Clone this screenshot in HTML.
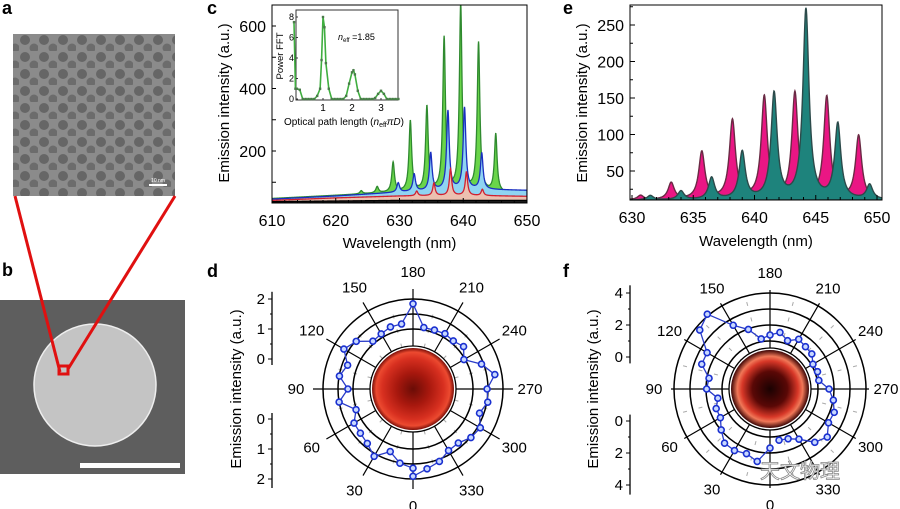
<!DOCTYPE html>
<html><head><meta charset="utf-8">
<style>
html,body{margin:0;padding:0;background:#fff;}
svg{display:block;font-family:"Liberation Sans",Arial,sans-serif;}
</style></head>
<body>
<svg id="fig" width="900" height="509" viewBox="0 0 900 509" xmlns="http://www.w3.org/2000/svg">
<defs>
  <radialGradient id="polD" cx="50%" cy="50%" r="50%">
    <stop offset="0" stop-color="#6a0c06"/><stop offset="0.4" stop-color="#a8180e"/>
    <stop offset="0.75" stop-color="#d83020"/><stop offset="0.9" stop-color="#ec4a30"/><stop offset="1" stop-color="#7a0e08"/>
  </radialGradient>
  <radialGradient id="polF" cx="50%" cy="50%" r="50%">
    <stop offset="0" stop-color="#1a0202"/><stop offset="0.45" stop-color="#5a0806"/>
    <stop offset="0.72" stop-color="#d83828"/><stop offset="0.84" stop-color="#f07858"/><stop offset="1" stop-color="#3a0404"/>
  </radialGradient>
  <pattern id="tem" width="19" height="17" patternUnits="userSpaceOnUse">
    <rect width="19" height="17" fill="#8b8b8b"/>
    <circle cx="6" cy="6" r="5" fill="#666"/>
    <circle cx="15" cy="14" r="4.5" fill="#6c6c6c"/>
  </pattern>
</defs>

<text x="2" y="14" font-size="18" font-weight="bold">a</text>
<rect x="13" y="34" width="162" height="162" fill="url(#tem)"/>
<rect x="149" y="184" width="18" height="2" fill="#fff"/>
<text x="158" y="182" font-size="5" fill="#fff" text-anchor="middle">10 nm</text>
<text x="2" y="276" font-size="18" font-weight="bold">b</text>
<rect x="0" y="300" width="185" height="174" fill="#5e5e5e"/>
<circle cx="95" cy="385" r="61" fill="#c4c4c4" stroke="#eee" stroke-width="1.5"/>
<rect x="80" y="463" width="100" height="5" fill="#fff"/>
<g stroke="#e01010" stroke-width="3" fill="none">
  <line x1="15" y1="196" x2="60" y2="372"/><line x1="175" y1="196" x2="68" y2="369"/>
  <rect x="59" y="366" width="9" height="8"/>
</g>

<text x="207" y="14" font-size="18" font-weight="bold">c</text>
<g id="cPlot"></g>
<text x="563" y="14" font-size="18" font-weight="bold">e</text>
<g id="ePlot"></g>
<text x="207" y="277" font-size="18" font-weight="bold">d</text>
<g id="dPlot"></g>
<text x="563" y="277" font-size="18" font-weight="bold">f</text>
<g id="fPlot"></g>

<text x="800" y="478" font-size="20" fill="#fff" stroke="#888" stroke-width="0.8" text-anchor="middle" font-family="'Liberation Sans','Noto Sans CJK SC',sans-serif">天文物理</text>
</svg>
<script>
const cGreenPeaks = [624.0, 626.5, 629.0, 631.7, 634.3, 637.0, 639.6, 642.4, 645.1];
const cGreenHeights = [10, 20, 95, 225, 270, 490, 595, 475, 185];
const cBluePeaks = [629.8, 632.3, 634.9, 637.6, 640.2, 642.9];
const cBlueHeights = [30, 55, 120, 252, 260, 115];
const cRedPeaks = [632.7, 635.4, 638.0, 640.5, 643.0];
const cRedHeights = [15, 40, 85, 75, 20];
const cBaseWl = [610, 620, 630, 640, 650];
const cGreenBase = [48, 58, 68, 70, 62];
const cBlueBase = [46, 56, 68, 78, 74];
const cRedBase = [42, 50, 56, 58, 55];
const cBlackBase = [38, 40, 42, 42, 42];
const cXTicks = [610, 620, 630, 640, 650];
const cYTicks = [200, 400, 600];
const fftX = [0,0.05,0.1,0.2,0.3,0.4,0.5,0.6,0.7,0.8,0.9,0.95,1.0,1.05,1.1,1.2,1.3,1.4,1.5,1.6,1.7,1.8,1.9,2.0,2.05,2.1,2.2,2.3,2.4,2.5,2.6,2.7,2.8,2.9,3.0,3.1,3.2,3.3,3.4,3.5,3.6];
const fftY = [7.5,1,1,0.9,0,0,0,0,0,0.3,1,3.8,8,7,3.5,1,0,0,0,0,0,0.3,1.5,2.6,2.8,2.4,0.8,0,0,0,0,0,0.1,0.5,0.8,0.5,0,0,0,0,0];
const fftYTicks = [0,2,4,6,8];
const fftXTicks = [1,2,3];
const ePinkPeaks = [630.7, 633.2, 635.7, 638.2, 640.8, 643.3, 645.9, 648.5];
const ePinkHeights = [6, 23, 65, 108, 140, 145, 140, 87];
const eTealPeaks = [631.5, 634.0, 636.5, 639.0, 641.6, 644.2, 646.8, 649.4];
const eTealHeights = [6, 12, 30, 65, 145, 260, 103, 20];
const eBase = 10;
const eXTicks = [630, 635, 640, 645, 650];
const eYTicks = [50, 100, 150, 200, 250];
const dAngles = [0,10,20,30,40,50,60,70,80,90,100,110,120,130,140,150,160,170,180,190,200,210,220,230,240,250,260,270,280,290,300,310,320,330,340,350,360];
const dValues = [1.64,1.51,1.22,1.59,1.37,1.29,1.27,1.02,1.5,1.17,1.49,1.32,1.66,1.47,1.08,1.12,1.2,1.2,1.84,1.08,1.09,1.13,1.09,1.2,0.96,1.43,1.77,1.47,1.53,1.36,1.59,1.52,1.35,1.37,1.57,1.7,1.91];
const dAxisTicks = [0,1,2];
const fAngles = [0,10,20,30,40,50,60,70,80,90,100,110,120,130,140,150,160,170,180,190,200,210,220,230,240,250,260,270,280,290,300,310,320,330,340,350];
const fValues = [1.69,2.6,2.3,2.44,2.42,1.98,1.58,1.58,1.31,1.96,1.87,2.54,2.54,3.73,4.1,2.6,1.96,1.18,1.375,1.59,1.21,1.59,1.45,1.41,1.1,1.16,1.1,1.69,2.02,2.27,2.22,2.67,2.35,1.62,1.31,1.25];
const fAxisTicks = [0,2,4];
const polarLabels = [0,30,60,90,120,150,180,210,240,270,300,330];

const NS = "http://www.w3.org/2000/svg";
function mk(parent, tag, attrs, text){
  const e = document.createElementNS(NS, tag);
  for (const k in attrs) e.setAttribute(k, attrs[k]);
  if (text !== undefined) e.textContent = text;
  parent.appendChild(e);
  return e;
}
function interp(xs, ys, x){
  if (x <= xs[0]) return ys[0];
  for (let i=1;i<xs.length;i++) if (x <= xs[i]) return ys[i-1] + (ys[i]-ys[i-1])*(x-xs[i-1])/(xs[i]-xs[i-1]);
  return ys[ys.length-1];
}
function spec(x, peaks, heights, w){
  let s = 0;
  for (let i=0;i<peaks.length;i++){ const d=(x-peaks[i])/w; s += heights[i]/(1+d*d); }
  return s;
}

(function(){
  const g = document.getElementById('cPlot');
  const L=272,R=527,T=5,B=203;
  const xS = v => L + (v-610)*(R-L)/40;
  const yS = v => 151 - (v-200)*0.3125;
  const clip = mk(g,'clipPath',{id:'cClip'}); mk(clip,'rect',{x:L,y:T,width:R-L,height:B-T});
  const area = mk(g,'g',{'clip-path':'url(#cClip)'});
  function drawSeries(base, peaks, heights, fill, stroke, name, w){
    let pts = [];
    for (let x=610; x<=650.001; x+=0.04){
      const v = interp(cBaseWl, base, x) + spec(x, peaks, heights, w);
      pts.push(xS(x).toFixed(2)+','+yS(v).toFixed(2));
    }
    const p = mk(area,'polygon',{points: xS(610)+','+B+' '+pts.join(' ')+' '+xS(650)+','+B, fill: fill, stroke: stroke, 'stroke-width':1.3});
    
    
  }
  drawSeries(cGreenBase, cGreenPeaks, cGreenHeights, '#6ad54a', '#2f8a2f', 'green-spectrum', 0.25);
  drawSeries(cBlueBase, cBluePeaks, cBlueHeights, '#8fd4f2', '#1a2fc0', 'blue-spectrum', 0.25);
  drawSeries(cRedBase, cRedPeaks, cRedHeights, '#ecc0b0', '#d02030', 'red-spectrum', 0.22);
  drawSeries(cBlackBase, [], [], '#1a1a1a', '#000', 'black-spectrum', 0.2);
  const frame = mk(g,'rect',{x:L,y:T,width:R-L,height:B-T,fill:'none',stroke:'#000','stroke-width':1});
  
  
  for (let v=610; v<=650; v+=2){ const major = v%10===0; mk(g,'line',{x1:xS(v),x2:xS(v),y1:B,y2:B-(major?5:3),stroke:'#000'}); }
  for (let v=100; v<=600; v+=100) mk(g,'line',{x1:L,x2:L+4,y1:yS(v),y2:yS(v),stroke:'#000'});
  cXTicks.forEach(v=>{ const t=mk(g,'text',{x:xS(v),y:226,'font-size':16,'text-anchor':'middle'},String(v));
      });
  cYTicks.forEach(v=>{ const t=mk(g,'text',{x:L-6,y:yS(v)+6,'font-size':16,'text-anchor':'end'},String(v));
      });
  const xt = mk(g,'text',{x:(L+R)/2,y:248,'font-size':15,'text-anchor':'middle'},'Wavelength (nm)');
   
  const yt = mk(g,'text',{x:0,y:0,'font-size':15,'text-anchor':'middle',transform:'translate(229,103) rotate(-90)'},'Emission intensity (a.u.)');
   
  const iL=296,iR=398,iT=10,iB=100;
  const fx = v => 294 + v*29;
  const fy = v => 99 - v*10.25;
  const ib = mk(g,'rect',{x:iL,y:iT,width:iR-iL,height:iB-iT,fill:'#fff',stroke:'#333','stroke-width':1});
   
  const line = mk(g,'polyline',{points: fftX.map((x,i)=>fx(x)+','+fy(fftY[i])).join(' '), fill:'none', stroke:'#3fae3f','stroke-width':1.6});
   
  fftX.forEach((x,i)=>{ const m=mk(g,'rect',{x:fx(x)-1.2,y:fy(fftY[i])-1.2,width:2.4,height:2.4,fill:'#4a7a4a'});
      });
  fftYTicks.forEach(v=>{ mk(g,'line',{x1:iL,x2:iL+2,y1:fy(v),y2:fy(v),stroke:'#333'});
    const t=mk(g,'text',{x:iL-2,y:fy(v)+3,'font-size':9,'text-anchor':'end'},String(v));
      });
  fftXTicks.forEach(v=>{ mk(g,'line',{x1:fx(v),x2:fx(v),y1:iB,y2:iB-2,stroke:'#333'});
    const t=mk(g,'text',{x:fx(v),y:iB+11,'font-size':10,'text-anchor':'middle'},String(v));
      });
  const pf = mk(g,'text',{x:0,y:0,'font-size':9.5,'text-anchor':'middle',transform:'translate(283,56) rotate(-90)'},'Power FFT');
   
  const ox = mk(g,'text',{x:344,y:125,'font-size':10,'text-anchor':'middle'});
   
  ox.innerHTML = 'Optical path length (<tspan font-style="italic">n</tspan><tspan font-size="7" dy="2">eff</tspan><tspan dy="-2" font-style="italic">πD</tspan>)';
  const ne = mk(g,'text',{x:338,y:40,'font-size':9});
   
  ne.innerHTML = '<tspan font-style="italic">n</tspan><tspan font-size="6" dy="2">eff</tspan><tspan dy="-2"> =1.85</tspan>';
})();

(function(){
  const g = document.getElementById('ePlot');
  const L=630,R=882,T=5,B=200;
  const xS = v => 632 + (v-630)*12.25;
  const yS = v => 25 + (250-v)*0.73;
  const clip = mk(g,'clipPath',{id:'eClip'}); mk(clip,'rect',{x:L,y:T,width:R-L,height:B-T});
  const area = mk(g,'g',{'clip-path':'url(#eClip)'});
  function drawSeries(peaks, heights, fill, stroke, name){
    let pts=[];
    for (let x=629.8; x<=650.6; x+=0.03){
      const v = eBase + spec(x, peaks, heights, 0.3);
      pts.push(xS(x).toFixed(2)+','+yS(v).toFixed(2));
    }
    const p = mk(area,'polygon',{points: xS(629.8)+','+B+' '+pts.join(' ')+' '+xS(650.6)+','+B, fill:fill, stroke:stroke,'stroke-width':1.4});
    
    
  }
  drawSeries(ePinkPeaks, ePinkHeights, '#ea1684', '#6a2a44', 'pink-spectrum');
  drawSeries(eTealPeaks, eTealHeights, '#1e837c', '#2c4a4a', 'teal-spectrum');
  const frame = mk(g,'rect',{x:L,y:T,width:R-L,height:B-T,fill:'none',stroke:'#000','stroke-width':1});
   
  for (let v=630; v<=650; v+=1){ const major=v%5===0; mk(g,'line',{x1:xS(v),x2:xS(v),y1:B,y2:B-(major?5:3),stroke:'#000'}); }
  for (let v=25; v<=275; v+=25){ const major=v%50===0; mk(g,'line',{x1:L,x2:L+(major?5:3),y1:yS(v),y2:yS(v),stroke:'#000'}); }
  eXTicks.forEach(v=>{ const t=mk(g,'text',{x:xS(v),y:223,'font-size':16,'text-anchor':'middle'},String(v));
      });
  eYTicks.forEach(v=>{ const t=mk(g,'text',{x:L-6,y:yS(v)+6,'font-size':16,'text-anchor':'end'},String(v));
      });
  const xt = mk(g,'text',{x:(L+R)/2,y:246,'font-size':15,'text-anchor':'middle'},'Wavelength (nm)');
   
  const yt = mk(g,'text',{x:0,y:0,'font-size':15,'text-anchor':'middle',transform:'translate(587,103) rotate(-90)'},'Emission intensity (a.u.)');
   
})();

function polar(gid, cx, cy, r0, k, imgR, rings, spokeR, angles, values, ticks, axisX, imgFill, titleX, prefix){
  const g = document.getElementById(gid);
  const rS = v => r0 + k*v;
  const pt = (a, r) => [cx - r*Math.sin(a*Math.PI/180), cy + r*Math.cos(a*Math.PI/180)];
  for (let a=15; a<360; a+=30){
    for (let i=0;i<rings.length;i++){
      const rr = rS(rings[i]) - k*0.5;
      const p1=pt(a,rr-2), p2=pt(a,rr+2);
      mk(g,'line',{x1:p1[0],y1:p1[1],x2:p2[0],y2:p2[1],stroke:'#aaa','stroke-width':1});
    }
  }
  polarLabels.forEach(a=>{
    const p1=pt(a,imgR), p2=pt(a,spokeR);
    const l = mk(g,'line',{x1:p1[0],y1:p1[1],x2:p2[0],y2:p2[1],stroke:'#000','stroke-width':1.2});
     
    const pl = pt(a, spokeR+17);
    const t = mk(g,'text',{x:pl[0],y:pl[1]+5,'font-size':15,'text-anchor':'middle'},String(a));
     
  });
  rings.forEach(v=>{
    const c = mk(g,'circle',{cx:cx,cy:cy,r:rS(v),fill:'none',stroke:'#000','stroke-width':1.5});
     
  });
  mk(g,'circle',{cx:cx,cy:cy,r:imgR+2,fill:'#fff',stroke:'#000','stroke-width':1.3});
  const im = mk(g,'circle',{cx:cx,cy:cy,r:imgR,fill:imgFill});
   
  const pts = angles.map((a,i)=>pt(a, rS(values[i])));
  const pl = mk(g,'polyline',{points: pts.map(p=>p[0].toFixed(1)+','+p[1].toFixed(1)).join(' '),fill:'none',stroke:'#2a3cc8','stroke-width':1.3});
   
  pts.forEach(p=>{
    const c = mk(g,'circle',{cx:p[0],cy:p[1],r:3,fill:'#c8d8ff',stroke:'#1a30d0','stroke-width':1.6});
     
  });
  const maxV = ticks[ticks.length-1];
  const up0 = cy - rS(-0.2*maxV/2), up1 = cy - rS(maxV*1.12);
  const lo0 = cy + rS(-0.2*maxV/2), lo1 = cy + rS(maxV*1.15);
  mk(g,'line',{x1:axisX,x2:axisX,y1:up0,y2:up1,stroke:'#000','stroke-width':1.3});
  mk(g,'line',{x1:axisX,x2:axisX,y1:lo0,y2:lo1,stroke:'#000','stroke-width':1.3});
  const step = (ticks[1]-ticks[0])/2;
  for (let v=0; v<=maxV+1e-9; v+=step){
    const major = ticks.some(t=>Math.abs(t-v)<1e-9);
    [cy-rS(v), cy+rS(v)].forEach(y=> mk(g,'line',{x1:axisX-(major?4:2),x2:axisX,y1:y,y2:y,stroke:'#000'}));
  }
  ticks.forEach(v=>{
    [cy-rS(v), cy+rS(v)].forEach(y=>{
      const t = mk(g,'text',{x:axisX-7,y:y+5,'font-size':15,'text-anchor':'end'},String(v));
       
    });
  });
  const yt = mk(g,'text',{x:0,y:0,'font-size':15,'text-anchor':'middle',transform:'translate('+titleX+','+cy+') rotate(-90)'},'Emission intensity (a.u.)');
   
}
polar('dPlot', 413, 389, 30, 30, 41, [1, 1.5, 2], 100, dAngles, dValues, dAxisTicks, 272, 'url(#polD)', 241, 'polar-d');
polar('fPlot', 770, 389, 32, 16, 39, [1, 2, 3, 4], 99, fAngles, fValues, fAxisTicks, 630, 'url(#polF)', 598, 'polar-f');
</script>
</body></html>
